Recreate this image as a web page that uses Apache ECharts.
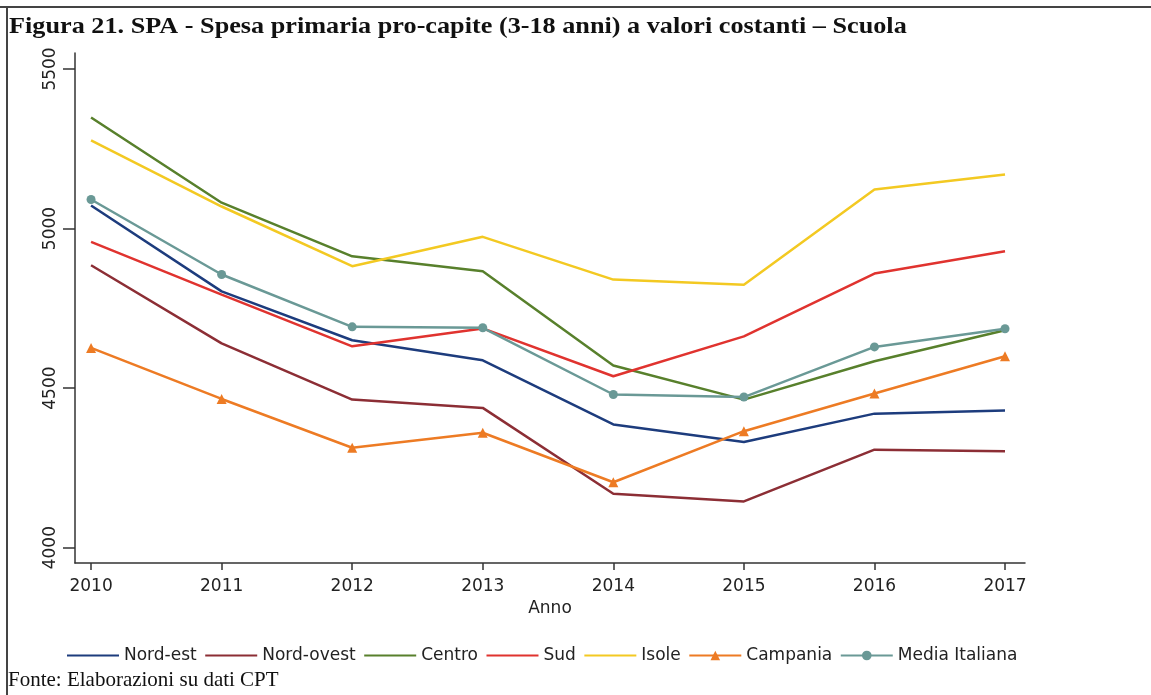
<!DOCTYPE html>
<html>
<head>
<meta charset="utf-8">
<style>
  html, body { margin: 0; padding: 0; background: #fff; }
  #chart { width: 1151px; height: 695px; }
</style>
<script src="https://cdn.jsdelivr.net/npm/echarts@6/dist/echarts.min.js"></script>
</head>
<body>
<div id="chart"></div>
<script>
// anni sull'asse x
const anni = [2010, 2011, 2012, 2013, 2014, 2015, 2016, 2017]
// tacche dell'asse y
const yTicks = [4000, 4500, 5000, 5500]

// spesa pro-capite per area
const nordEst = [5072, 4803, 4650, 4587, 4386, 4331, 4420, 4430]
const nordOvest = [4885, 4640, 4464, 4438, 4169, 4145, 4307, 4302]
const centro = [5348, 5081, 4913, 4866, 4571, 4464, 4584, 4681]
const sud = [4958, 4793, 4631, 4687, 4537, 4662, 4859, 4929]
const isole = [5276, 5069, 4882, 4974, 4840, 4824, 5122, 5169]
const campania = [4626, 4466, 4313, 4360, 4205, 4365, 4483, 4600]
const mediaItaliana = [5091, 4856, 4692, 4689, 4480, 4472, 4629, 4686]

const sans = 'DejaVu Sans'
const axisColor = '#333'

const chartInstance = echarts.init(document.getElementById('chart'))

// crea una serie a linee
function makeSeries (name, values, color, symbol, symbolSize) {
  return {
    name: name,
    type: 'line',
    data: values.map((v, i) => [anni[i], v]),
    symbol: symbol || 'none',
    symbolSize: symbolSize || 0,
    showSymbol: !!symbol,
    lineStyle: { color: color, width: 2.5 },
    itemStyle: { color: color },
    emphasis: { disabled: true }
  }
}

// voce di legenda: senza marcatore se la serie non ne ha
function legendItem (name, withMarker) {
  return withMarker ? { name: name } : { name: name, itemStyle: { opacity: 0 } }
}

const option = {
  animation: false,
  backgroundColor: '#fff',
  grid: {
    left: 75,
    right: 126,
    top: 53,
    bottom: 132
  },
  legend: {
    left: 61,
    top: 642,
    itemWidth: 52,
    itemHeight: 12,
    itemGap: 7.5,
    textStyle: { fontFamily: sans, fontSize: 17, color: '#222' },
    data: [
      legendItem('Nord-est'),
      legendItem('Nord-ovest'),
      legendItem('Centro'),
      legendItem('Sud'),
      legendItem('Isole'),
      legendItem('Campania', true),
      legendItem('Media Italiana', true)
    ]
  },
  xAxis: {
    type: 'value',
    min: 2009.877,
    max: 2017.153,
    name: 'Anno',
    nameLocation: 'middle',
    nameGap: 37,
    nameTextStyle: { fontFamily: sans, fontSize: 17, color: '#222' },
    splitLine: { show: false },
    axisLine: { show: true, lineStyle: { color: axisColor, width: 1.5 } },
    axisTick: { show: true, length: 7, customValues: anni, lineStyle: { color: axisColor, width: 1.5 } },
    axisLabel: {
      customValues: anni,
      margin: 15,
      fontFamily: sans,
      fontSize: 17,
      color: '#222',
      formatter: v => String(v)
    }
  },
  yAxis: {
    type: 'value',
    min: 3952,
    max: 5550,
    splitLine: { show: false },
    axisLine: { show: true, lineStyle: { color: axisColor, width: 1.5 } },
    axisTick: { show: true, length: 12, customValues: yTicks, lineStyle: { color: axisColor, width: 1.5 } },
    axisLabel: {
      customValues: yTicks,
      rotate: 90,
      margin: 16,
      fontFamily: sans,
      fontSize: 17,
      color: '#222',
      formatter: v => String(v)
    }
  },
  series: [
    makeSeries('Nord-est', nordEst, '#1d3c7d'),
    makeSeries('Nord-ovest', nordOvest, '#8c2e35'),
    makeSeries('Centro', centro, '#58802c'),
    makeSeries('Sud', sud, '#e0332f'),
    makeSeries('Isole', isole, '#f3c922'),
    makeSeries('Campania', campania, '#ed7b24', 'triangle', 10),
    makeSeries('Media Italiana', mediaItaliana, '#6a9996', 'circle', 9)
  ],
  graphic: [
    // cornice del riquadro (in alto e a sinistra)
    { type: 'line', shape: { x1: 0, y1: 7, x2: 1151, y2: 7 }, style: { stroke: '#444', lineWidth: 2 } },
    { type: 'line', shape: { x1: 7, y1: 7, x2: 7, y2: 695 }, style: { stroke: '#444', lineWidth: 2 } },
    // titolo (il riferimento è leggermente allargato in orizzontale)
    {
      type: 'text',
      x: 9,
      y: 16,
      scaleX: 1.14,
      style: {
        text: 'Figura 21. SPA - Spesa primaria pro-capite (3-18 anni) a valori costanti – Scuola',
        font: 'bold 23px "Liberation Serif"',
        fill: '#111'
      }
    },
    {
      type: 'text',
      x: 8,
      y: 670,
      style: {
        text: 'Fonte: Elaborazioni su dati CPT',
        font: '21px "Liberation Serif"',
        fill: '#111'
      }
    }
  ]
}

chartInstance.setOption(option)
</script>
</body>
</html>
